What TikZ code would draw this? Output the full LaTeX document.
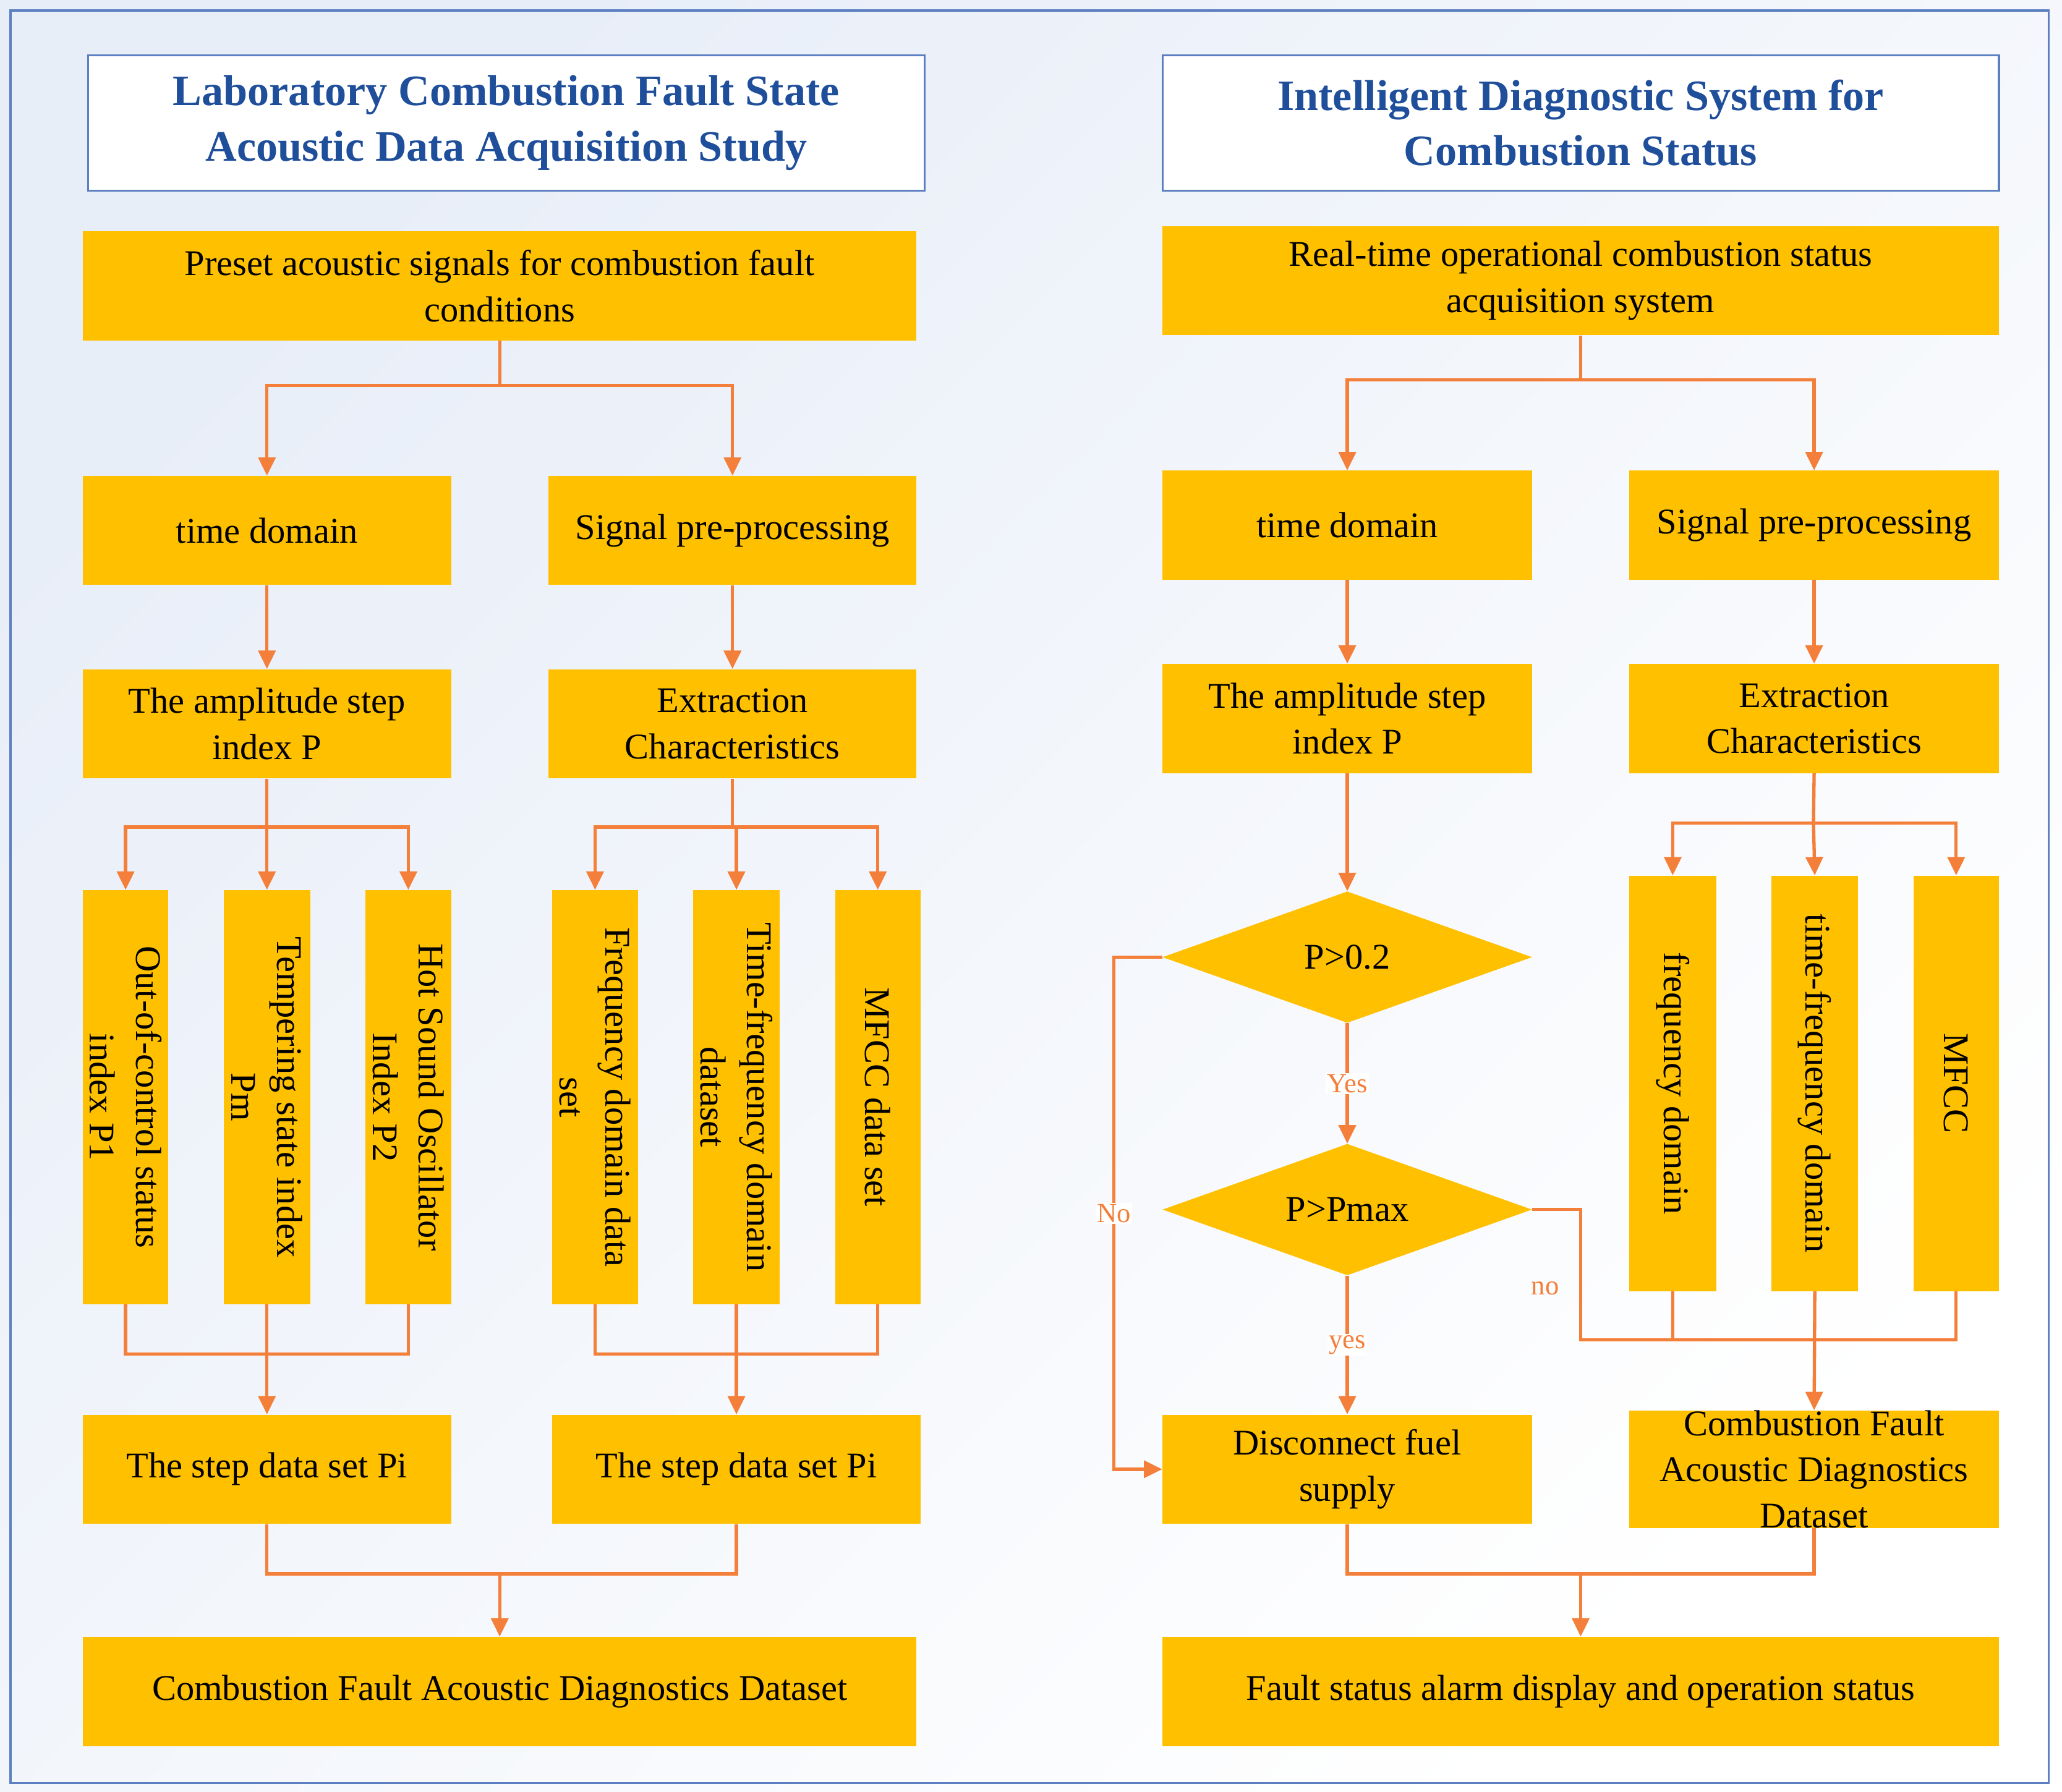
\documentclass[tikz,border=0pt]{standalone}
\usepackage{fontspec}
\setmainfont{Liberation Serif}
\usetikzlibrary{arrows.meta,shapes.geometric}
\definecolor{box}{HTML}{FFC000}
\definecolor{ln}{HTML}{F47F3A}
\definecolor{tb}{HTML}{1F4E9A}
\definecolor{bd}{HTML}{5B7FC0}
\begin{document}
\begin{tikzpicture}[x=1pt,y=-1pt,
 b/.style={fill=box,inner sep=0pt,align=center,font=\fontsize{27.5}{35}\selectfont},
 v/.style={b,rotate=-90},
 t/.style={draw=bd,line width=1.5pt,fill=white,align=center,text=tb,font=\bfseries\fontsize{33}{42}\selectfont},
 d/.style={diamond,fill=box,inner sep=0pt,aspect=2.8,font=\fontsize{27.5}{30}\selectfont},
 c/.style={draw=ln,line width=2.5pt},
 a/.style={c,-{Triangle[length=14pt,width=13pt]}},
 lb/.style={text=ln,font=\fontsize{21}{24}\selectfont,fill=white,inner sep=1pt}]
\useasboundingbox (0,0) rectangle (1568,1363);
\shade[left color={rgb,255:red,232;green,238;blue,248},right color=white,shading angle=45] (0,0) rectangle (1568,1363);
\draw[bd,line width=1.5pt] (8,8) rectangle (1558,1356);
% titles
\node[t,minimum width=636,minimum height=103] (t1) at (385,93.5) {Laboratory Combustion Fault State\\Acoustic Data Acquisition Study};
\node[t,minimum width=636,minimum height=103] (t2) at (1202,93.5) {Intelligent Diagnostic System for\\Combustion Status};
% left
\node[b,minimum width=634,minimum height=83] (p) at (380,217.5) {Preset acoustic signals for combustion fault\\conditions};
\node[b,minimum width=280,minimum height=83] (lt) at (203,403.5) {time domain};
\node[b,minimum width=280,minimum height=83] (ls) at (557,403.5) {Signal pre-processing};
\node[b,minimum width=280,minimum height=83] (la) at (203,550.5) {The amplitude step\\index P};
\node[b,minimum width=280,minimum height=83] (le) at (557,550.5) {Extraction\\Characteristics};
\node[v,minimum width=315,minimum height=65] (v1) at (95.5,834.5) {Out-of-control status\\index P1};
\node[v,minimum width=315,minimum height=66] (v2) at (203,834.5) {Tempering state index\\Pm};
\node[v,minimum width=315,minimum height=65] (v3) at (310.5,834.5) {Hot Sound Oscillator\\Index P2};
\node[v,minimum width=315,minimum height=65] (v4) at (452.5,834.5) {Frequency domain data\\set};
\node[v,minimum width=315,minimum height=66] (v5) at (560,834.5) {Time-frequency domain\\dataset};
\node[v,minimum width=315,minimum height=65] (v6) at (667.5,834.5) {MFCC data set};
\node[b,minimum width=280,minimum height=83] (ld1) at (203,1117.5) {The step data set Pi};
\node[b,minimum width=280,minimum height=83] (ld2) at (560,1117.5) {The step data set Pi};
\node[b,minimum width=634,minimum height=83] (lf) at (380,1286.5) {Combustion Fault Acoustic Diagnostics Dataset};
% right
\node[b,minimum width=636,minimum height=83] (r) at (1202,213.5) {Real-time operational combustion status\\acquisition system};
\node[b,minimum width=281,minimum height=83] (rt) at (1024.5,399.5) {time domain};
\node[b,minimum width=281,minimum height=83] (rs) at (1379.5,399.5) {Signal pre-processing};
\node[b,minimum width=281,minimum height=83] (ra) at (1024.5,546.5) {The amplitude step\\index P};
\node[b,minimum width=281,minimum height=83] (re) at (1379.5,546.5) {Extraction\\Characteristics};
\node[d,minimum width=281,minimum height=100] (d1) at (1024.5,728) {P>0.2};
\node[d,minimum width=281,minimum height=100] (d2) at (1024.5,920) {P>Pmax};
\node[v,minimum width=316,minimum height=66] (w1) at (1272,824) {frequency domain};
\node[v,minimum width=316,minimum height=66] (w2) at (1380,824) {time-frequency domain};
\node[v,minimum width=316,minimum height=65] (w3) at (1487.5,824) {MFCC};
\node[b,minimum width=281,minimum height=83] (rd) at (1024.5,1117.5) {Disconnect fuel\\supply};
\node[b,minimum width=281,minimum height=83] (rc) at (1379.5,1117.5) {Combustion Fault\\Acoustic Diagnostics\\Dataset};
\node[b,minimum width=636,minimum height=83] (rf) at (1202,1286.5) {Fault status alarm display and operation status};
% left connectors
\coordinate (j1) at (380,293);
\draw[c] (p.south) -- (j1);
\draw[a] (j1) -| (lt.north);
\draw[a] (j1) -| (ls.north);
\draw[a] (lt) -- (la);
\draw[a] (ls) -- (le);
\coordinate (j2) at (203,629);
\draw[c] (la.south) -- (j2);
\draw[a] (j2) -| (v1.west);
\draw[a] (j2) -- (v2.west);
\draw[a] (j2) -| (v3.west);
\coordinate (j3) at (557,629);
\draw[c] (le.south) -- (j3);
\draw[a] (j3) -| (v4.west);
\draw[a] (j3) -| (v5.west);
\draw[a] (j3) -| (v6.west);
\coordinate (j4) at (203,1030);
\draw[c] (v1.east) |- (j4) -| (v3.east);
\draw[a] (v2.east) -- (ld1.north);
\coordinate (j5) at (560,1030);
\draw[c] (v4.east) |- (j5) -| (v6.east);
\draw[a] (v5.east) -- (ld2.north);
\coordinate (j6) at (380,1197);
\draw[c] (ld1.south) |- (j6) -| (ld2.south);
\draw[a] (j6) -- (lf.north);
% right connectors
\coordinate (k1) at (1202,289);
\draw[c] (r.south) -- (k1);
\draw[a] (k1) -| (rt.north);
\draw[a] (k1) -| (rs.north);
\draw[a] (rt) -- (ra);
\draw[a] (rs) -- (re);
\draw[a] (ra) -- (d1.north);
\draw[a] (d1.south) -- node[lb]{Yes} (d2.north);
\draw[a] (d2.south) -- node[lb]{yes} (rd.north);
\coordinate (k2) at (847,728);
\draw[a] (d1.west) -- (k2) |- node[lb,pos=0.25]{No} (rd.west);
\coordinate (k3) at (1379,626);
\draw[c] (re.south) -- (k3);
\draw[a] (k3) -| (w1.west);
\draw[a] (k3) -- (w2.west);
\draw[a] (k3) -| (w3.west);
\coordinate (k4) at (1202,1019);
\coordinate (k5) at (1487.5,1019);
\draw[c] (d2.east) -| (k4) -- (k5) -- (w3.east);
\draw[c] (w1.east) -- (1272,1019);
\draw[a] (w2.east) -- (rc.north);
\node[lb,fill=none] at (1175,980) {no};
\coordinate (k6) at (1202,1197);
\draw[c] (rd.south) |- (k6) -| (rc.south);
\draw[a] (k6) -- (rf.north);
\end{tikzpicture}
\end{document}
